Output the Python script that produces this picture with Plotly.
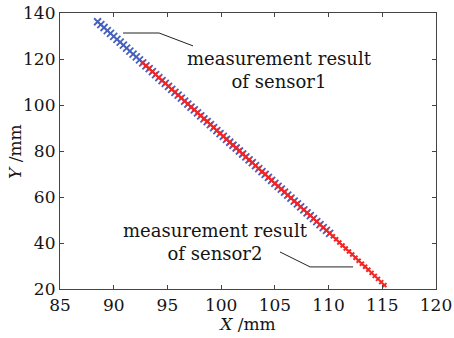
import plotly.graph_objects as go

sensor1_x = [88.5, 88.8, 89.1, 89.4, 89.7, 90.0, 90.3, 90.6, 90.9, 91.2, 91.5, 91.8, 92.1, 92.4, 92.7,
             93.0, 93.3, 93.6, 93.9, 94.2, 94.5, 94.8, 95.1, 95.4, 95.7, 96.0, 96.3, 96.6, 96.9, 97.2,
             97.5, 97.8, 98.1, 98.4, 98.7, 99.0, 99.3, 99.6, 99.9, 100.2, 100.5, 100.8, 101.1, 101.4,
             101.7, 102.0, 102.3, 102.6, 102.9, 103.2, 103.5, 103.8, 104.1, 104.4, 104.7, 105.0, 105.3,
             105.6, 105.9, 106.2, 106.5, 106.8, 107.1, 107.4, 107.7, 108.0, 108.3, 108.6, 108.9, 109.2,
             109.5, 109.8, 110.1]
sensor1_y = [136.2, 134.9, 133.7, 132.3, 131.1, 129.8, 128.5, 127.3, 126.0, 124.7, 123.4, 122.1, 120.9,
             119.6, 118.3, 117.0, 115.8, 114.5, 113.2, 111.9, 110.6, 109.4, 108.1, 106.8, 105.5, 104.3,
             103.0, 101.7, 100.4, 99.1, 97.9, 96.6, 95.3, 94.0, 92.8, 91.5, 90.2, 88.9, 87.6, 86.4, 85.1,
             83.8, 82.5, 81.3, 80.0, 78.7, 77.4, 76.1, 74.9, 73.6, 72.3, 71.0, 69.8, 68.5, 67.2, 65.9,
             64.6, 63.4, 62.1, 60.8, 59.5, 58.2, 57.0, 55.7, 54.4, 53.1, 51.9, 50.6, 49.3, 48.0, 46.7,
             45.5, 44.2]

sensor2_x = [92.7, 93.0, 93.3, 93.6, 93.9, 94.2, 94.5, 94.8, 95.1, 95.4, 95.7, 96.0, 96.3, 96.6, 96.9,
             97.2, 97.5, 97.8, 98.1, 98.4, 98.7, 99.0, 99.3, 99.6, 99.9, 100.2, 100.5, 100.8, 101.1,
             101.4, 101.7, 102.0, 102.3, 102.6, 102.9, 103.2, 103.5, 103.8, 104.1, 104.4, 104.7, 105.0,
             105.3, 105.6, 105.9, 106.2, 106.5, 106.8, 107.1, 107.4, 107.7, 108.0, 108.3, 108.6, 108.9,
             109.2, 109.5, 109.8, 110.1, 110.4, 110.7, 111.0, 111.3, 111.6, 111.9, 112.2, 112.5, 112.8,
             113.1, 113.4, 113.7, 114.0, 114.3, 114.6, 114.9, 115.2]
sensor2_y = [118.4, 117.1, 115.9, 114.5, 113.3, 111.9, 110.7, 109.4, 108.2, 106.8, 105.6, 104.3, 103.1,
             101.7, 100.5, 99.1, 98.0, 96.6, 95.4, 94.0, 92.9, 91.5, 90.3, 88.9, 87.7, 86.4, 85.2, 83.8,
             82.6, 81.3, 80.1, 78.7, 77.5, 76.1, 75.0, 73.6, 72.4, 71.0, 69.9, 68.5, 67.3, 65.9, 64.7,
             63.4, 62.2, 60.8, 59.6, 58.2, 57.1, 55.7, 54.5, 53.1, 52.0, 50.6, 49.4, 48.0, 46.8, 45.5,
             44.3, 42.9, 41.6, 40.2, 38.9, 37.6, 36.3, 35.0, 33.6, 32.3, 31.0, 29.7, 28.4, 27.0, 25.7,
             24.4, 23.0, 21.7]

x_ticks = [85, 90, 95, 100, 105, 110, 115, 120]
y_ticks = [20, 40, 60, 80, 100, 120, 140]

FONT = "DejaVu Serif"
TXT = "#151515"

fig = go.Figure()
fig.add_trace(go.Scatter(x=sensor1_x, y=sensor1_y, mode="markers",
                         marker=dict(symbol="x-thin", size=7, line=dict(width=1.8, color="#4660be")),
                         showlegend=False))
fig.add_trace(go.Scatter(x=sensor2_x, y=sensor2_y, mode="markers",
                         marker=dict(symbol="x-thin", size=4, line=dict(width=2, color="#f22424")),
                         showlegend=False))

fig.add_annotation(x=105.4, y=115.2, xref="x", yref="y", text="measurement result<br>of sensor1",
                   showarrow=False, align="center", font=dict(family=FONT, size=18, color=TXT))
fig.add_annotation(x=99.5, y=40.4, xref="x", yref="y", text="measurement result<br>of sensor2",
                   showarrow=False, align="center", font=dict(family=FONT, size=18, color=TXT))
# Y axis title
fig.add_annotation(x=-0.12, y=0.5, xref="paper", yref="paper", text="<i>Y</i> /mm", textangle=-90,
                   showarrow=False, xanchor="center", yanchor="middle",
                   font=dict(family=FONT, size=17, color=TXT))

fig.add_shape(type="path", xref="x", yref="y",
              path="M 90.87 131.3 L 94.22 131.3 L 97.38 125.7", line=dict(color="#222", width=1))
fig.add_shape(type="path", xref="x", yref="y",
              path="M 105.48 36.1 L 108.28 29.6 L 112.28 29.6", line=dict(color="#222", width=1))

axis_common = dict(showline=True, linecolor="#444", linewidth=1.2, mirror="ticks",
                   ticks="inside", ticklen=4, tickcolor="#444", showgrid=False, zeroline=False,
                   automargin=False,
                   tickfont=dict(family=FONT, size=17, color=TXT))
fig.update_xaxes(range=[85, 120], tickvals=x_ticks, ticktext=[str(v) for v in x_ticks],
                 title=dict(text="<i>X</i> /mm", font=dict(family=FONT, size=17, color=TXT), standoff=0),
                 **axis_common)
fig.update_yaxes(range=[20, 140], tickvals=y_ticks, ticktext=[str(v) for v in y_ticks],
                 **axis_common)

fig.update_layout(width=454, height=338, margin=dict(l=60, r=18, t=13, b=49),
                  paper_bgcolor="white", plot_bgcolor="white")
fig.write_html("out.html", config={"displayModeBar": False},
               post_script="document.body.style.margin='0';")
